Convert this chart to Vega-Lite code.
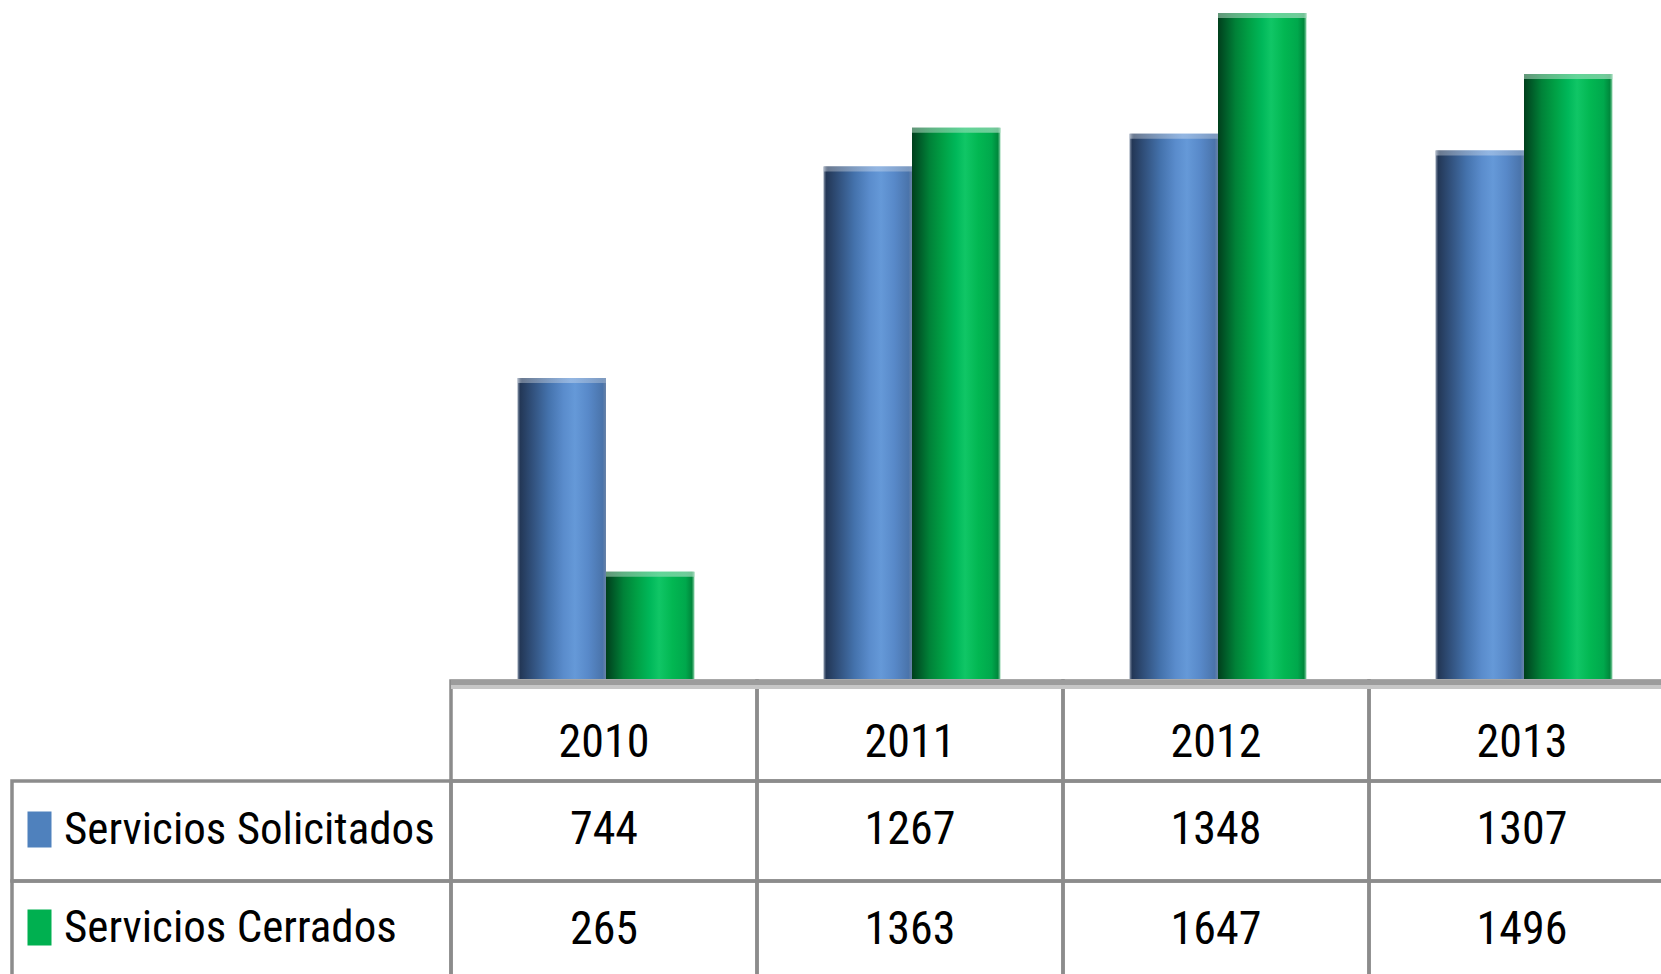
{
  "$schema": "https://vega.github.io/schema/vega-lite/v6.json",
  "width": 1210,
  "height": 974,
  "autosize": {"type": "none"},
  "padding": {"left": 451, "top": 0, "right": 0, "bottom": 0},
  "background": "white",
  "config": {"view": {"stroke": null}, "font": "Roboto Condensed"},
  "data": {
    "values": [
      {"anio": "2010", "serie": "Servicios Solicitados", "valor": 744},
      {"anio": "2011", "serie": "Servicios Solicitados", "valor": 1267},
      {"anio": "2012", "serie": "Servicios Solicitados", "valor": 1348},
      {"anio": "2013", "serie": "Servicios Solicitados", "valor": 1307},
      {"anio": "2010", "serie": "Servicios Cerrados", "valor": 265},
      {"anio": "2011", "serie": "Servicios Cerrados", "valor": 1363},
      {"anio": "2012", "serie": "Servicios Cerrados", "valor": 1647},
      {"anio": "2013", "serie": "Servicios Cerrados", "valor": 1496}
    ]
  },
  "resolve": {"scale": {"x": "independent", "y": "independent", "xOffset": "independent"}},
  "layer": [
    {
      "transform": [{"filter": "datum.serie === 'Servicios Solicitados'"}],
      "mark": {
        "type": "bar",
        "color": {
          "gradient": "linear", "x1": 0, "x2": 1, "y1": 0, "y2": 0,
          "stops": [
            {"offset": 0, "color": "#8a97ab"},
            {"offset": 0.03, "color": "#233756"},
            {"offset": 0.15, "color": "#2f4d77"},
            {"offset": 0.35, "color": "#4472ac"},
            {"offset": 0.52, "color": "#5a8ccc"},
            {"offset": 0.65, "color": "#6599d8"},
            {"offset": 0.8, "color": "#5889c9"},
            {"offset": 0.96, "color": "#4a74ab"},
            {"offset": 1, "color": "#6983a8"}
          ]
        }
      },
      "encoding": {
        "x": {"field": "anio", "type": "nominal", "scale": {"domain": ["2010", "2011", "2012", "2013"], "range": [2, 1226], "paddingInner": 0, "paddingOuter": 0}, "axis": null},
        "xOffset": {"field": "serie", "type": "nominal", "scale": {"domain": ["Servicios Solicitados", "Servicios Cerrados"], "paddingInner": 0, "paddingOuter": 0.729}},
        "y": {"field": "valor", "type": "quantitative", "scale": {"domain": [0, 1679], "range": [679, 0], "nice": false, "zero": true}, "axis": null}
      }
    },
    {
      "transform": [{"filter": "datum.serie === 'Servicios Cerrados'"}],
      "mark": {
        "type": "bar",
        "color": {
          "gradient": "linear", "x1": 0, "x2": 1, "y1": 0, "y2": 0,
          "stops": [
            {"offset": 0, "color": "#003f1c"},
            {"offset": 0.08, "color": "#005a28"},
            {"offset": 0.2, "color": "#008238"},
            {"offset": 0.35, "color": "#00a045"},
            {"offset": 0.5, "color": "#00b85a"},
            {"offset": 0.6, "color": "#10c666"},
            {"offset": 0.75, "color": "#02b752"},
            {"offset": 0.9, "color": "#00a84c"},
            {"offset": 0.97, "color": "#00883c"},
            {"offset": 1, "color": "#8fd4ac"}
          ]
        }
      },
      "encoding": {
        "x": {"field": "anio", "type": "nominal", "scale": {"domain": ["2010", "2011", "2012", "2013"], "range": [2, 1226], "paddingInner": 0, "paddingOuter": 0}, "axis": null},
        "xOffset": {"field": "serie", "type": "nominal", "scale": {"domain": ["Servicios Solicitados", "Servicios Cerrados"], "paddingInner": 0, "paddingOuter": 0.729}},
        "y": {"field": "valor", "type": "quantitative", "scale": {"domain": [0, 1679], "range": [679, 0], "nice": false, "zero": true}, "axis": null}
      }
    },
    {
      "transform": [{"filter": "datum.serie === 'Servicios Solicitados'"}],
      "mark": {
        "type": "tick", "orient": "horizontal", "thickness": 5, "size": 88.5,
        "color": {
          "gradient": "linear", "x1": 0, "x2": 1, "y1": 0, "y2": 0,
          "stops": [
            {"offset": 0, "color": "#c4ccd8"},
            {"offset": 0.05, "color": "#8895a8"},
            {"offset": 0.6, "color": "#a8c4e8"},
            {"offset": 1, "color": "#90a8c8"}
          ]
        }
      },
      "encoding": {
        "x": {"field": "anio", "type": "nominal", "scale": {"domain": ["2010", "2011", "2012", "2013"], "range": [2, 1226], "paddingInner": 0, "paddingOuter": 0}, "axis": null},
        "xOffset": {"field": "serie", "type": "nominal", "scale": {"domain": ["Servicios Solicitados", "Servicios Cerrados"], "paddingInner": 0, "paddingOuter": 0.729}},
        "y": {"field": "valor", "type": "quantitative", "scale": {"domain": [0, 1679], "range": [681.5, 2.5], "nice": false, "zero": true}, "axis": null}
      }
    },
    {
      "transform": [{"filter": "datum.serie === 'Servicios Cerrados'"}],
      "mark": {
        "type": "tick", "orient": "horizontal", "thickness": 5, "size": 88.5,
        "color": {
          "gradient": "linear", "x1": 0, "x2": 1, "y1": 0, "y2": 0,
          "stops": [
            {"offset": 0, "color": "#8cbba0"},
            {"offset": 0.6, "color": "#86dcae"},
            {"offset": 1, "color": "#a8dcc0"}
          ]
        }
      },
      "encoding": {
        "x": {"field": "anio", "type": "nominal", "scale": {"domain": ["2010", "2011", "2012", "2013"], "range": [2, 1226], "paddingInner": 0, "paddingOuter": 0}, "axis": null},
        "xOffset": {"field": "serie", "type": "nominal", "scale": {"domain": ["Servicios Solicitados", "Servicios Cerrados"], "paddingInner": 0, "paddingOuter": 0.729}},
        "y": {"field": "valor", "type": "quantitative", "scale": {"domain": [0, 1679], "range": [681.5, 2.5], "nice": false, "zero": true}, "axis": null}
      }
    },
    {
      "mark": {"type": "rect", "fill": "transparent", "stroke": "#8c8c8c", "strokeWidth": 3.5},
      "encoding": {
        "x": {"field": "anio", "type": "nominal", "scale": {"domain": ["2010", "2011", "2012", "2013"], "range": [0, 1224], "paddingInner": 0, "paddingOuter": 0}, "axis": null},
        "y": {"field": "serie", "type": "nominal", "scale": {"domain": ["Año", "Servicios Solicitados", "Servicios Cerrados"], "range": [681, 981], "paddingInner": 0, "paddingOuter": 0}, "axis": null}
      }
    },
    {
      "transform": [{"filter": "datum.serie === 'Servicios Solicitados'"}],
      "mark": {"type": "rect", "fill": "transparent", "stroke": "#8c8c8c", "strokeWidth": 3.5},
      "encoding": {
        "x": {"field": "anio", "type": "nominal", "scale": {"domain": ["2010", "2011", "2012", "2013"], "range": [0, 1224], "paddingInner": 0, "paddingOuter": 0}, "axis": null},
        "y": {"datum": "Año", "type": "nominal", "scale": {"domain": ["Año", "Servicios Solicitados", "Servicios Cerrados"], "range": [681, 981], "paddingInner": 0, "paddingOuter": 0}, "axis": null}
      }
    },
    {
      "transform": [{"filter": "datum.anio === '2010'"}],
      "mark": {"type": "rect", "fill": "transparent", "stroke": "#8c8c8c", "strokeWidth": 3.5},
      "encoding": {
        "x": {"datum": "Serie", "type": "nominal", "scale": {"domain": ["Serie"], "range": [-439, 0], "paddingInner": 0, "paddingOuter": 0}, "axis": null},
        "y": {"field": "serie", "type": "nominal", "scale": {"domain": ["Año", "Servicios Solicitados", "Servicios Cerrados"], "range": [681, 981], "paddingInner": 0, "paddingOuter": 0}, "axis": null}
      }
    },
    {
      "transform": [{"filter": "datum.serie === 'Servicios Solicitados'"}],
      "mark": {"type": "text", "fontSize": 46, "font": "Roboto Condensed", "color": "#000000", "baseline": "middle", "align": "center", "dy": 12},
      "encoding": {
        "x": {"field": "anio", "type": "nominal", "scale": {"domain": ["2010", "2011", "2012", "2013"], "range": [0, 1224], "paddingInner": 0, "paddingOuter": 0}, "axis": null},
        "y": {"datum": "Año", "type": "nominal", "scale": {"domain": ["Año", "Servicios Solicitados", "Servicios Cerrados"], "range": [681, 981], "paddingInner": 0, "paddingOuter": 0}, "axis": null},
        "text": {"field": "anio", "type": "nominal"}
      }
    },
    {
      "mark": {"type": "text", "fontSize": 46, "font": "Roboto Condensed", "color": "#000000", "baseline": "middle", "align": "center", "dy": -1},
      "encoding": {
        "x": {"field": "anio", "type": "nominal", "scale": {"domain": ["2010", "2011", "2012", "2013"], "range": [0, 1224], "paddingInner": 0, "paddingOuter": 0}, "axis": null},
        "y": {"field": "serie", "type": "nominal", "scale": {"domain": ["Año", "Servicios Solicitados", "Servicios Cerrados"], "range": [681, 981], "paddingInner": 0, "paddingOuter": 0}, "axis": null},
        "text": {"field": "valor", "type": "quantitative"}
      }
    },
    {
      "transform": [{"filter": "datum.anio === '2010'"}],
      "mark": {"type": "point", "opacity": 0, "filled": true},
      "encoding": {
        "x": {"datum": "Serie", "type": "nominal", "scale": {"domain": ["Serie"], "range": [-439, 0]}, "axis": null},
        "y": {"field": "serie", "type": "nominal", "scale": {"domain": ["Año", "Servicios Solicitados", "Servicios Cerrados"], "range": [681, 981], "paddingInner": 0, "paddingOuter": 0}, "axis": null},
        "color": {
          "field": "serie", "type": "nominal",
          "scale": {"domain": ["Servicios Solicitados", "Servicios Cerrados"], "range": ["#4f81bd", "#00b050"]},
          "legend": {
            "orient": "none", "legendX": -434, "legendY": 807, "title": null,
            "symbolType": "M-0.667,-1H0.667V1H-0.667Z", "symbolSize": 1296, "symbolOpacity": 1, "symbolStrokeWidth": 0,
            "labelFont": "Roboto Condensed", "labelFontSize": 45, "labelColor": "#000000", "labelOffset": 2, "labelLimit": 0,
            "rowPadding": 52, "padding": 0
          }
        }
      }
    },
    {
      "mark": {"type": "rule", "color": "#9c9c9c", "strokeWidth": 5, "opacity": 0.9},
      "encoding": {
        "y": {"datum": 0, "type": "quantitative", "scale": {"domain": [0, 1], "range": [682.5, 1682.5]}, "axis": null}
      }
    },
    {
      "mark": {"type": "rule", "color": "#c6c6c6", "strokeWidth": 4},
      "encoding": {
        "y": {"datum": 0, "type": "quantitative", "scale": {"domain": [0, 1], "range": [687, 1687]}, "axis": null}
      }
    }
  ]
}
